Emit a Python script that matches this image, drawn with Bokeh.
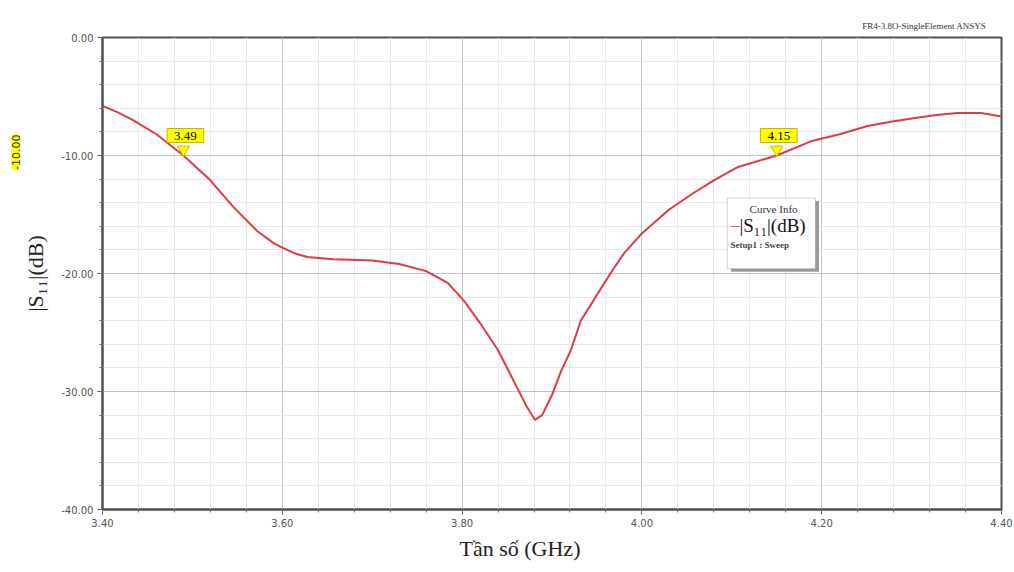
from bokeh.plotting import figure
from bokeh.models import (Range1d, PrintfTickFormatter, FixedTicker, Label, BoxAnnotation,
                          Title)
from bokeh.embed import file_html
from bokeh.resources import INLINE

# ---- data ----
freq_ghz = [3.40, 3.417, 3.434, 3.46, 3.49, 3.52, 3.546, 3.572, 3.59, 3.60, 3.614, 3.628,
            3.657, 3.70, 3.73, 3.76, 3.784, 3.802, 3.82, 3.84, 3.86, 3.872, 3.881, 3.889,
            3.90, 3.91, 3.921, 3.932, 3.946, 3.965, 3.98, 4.00, 4.03, 4.057, 4.08, 4.106,
            4.15, 4.188, 4.22, 4.251, 4.28, 4.306, 4.33, 4.351, 4.377, 4.40]
s11_db = [-5.8, -6.35, -7.0, -8.2, -10.0, -12.1, -14.4, -16.4, -17.4, -17.8, -18.3, -18.6,
          -18.8, -18.9, -19.2, -19.8, -20.8, -22.3, -24.2, -26.5, -29.5, -31.3, -32.4, -32.0,
          -30.3, -28.3, -26.5, -24.0, -22.3, -20.0, -18.3, -16.6, -14.6, -13.2, -12.1, -11.0,
          -10.0, -8.8, -8.2, -7.5, -7.1, -6.8, -6.55, -6.4, -6.4, -6.7]
marker_freq = [3.49, 4.15]
marker_db = [-10.0, -10.0]
marker_text = ["3.49", "4.15"]
x_ticks = [3.40, 3.60, 3.80, 4.00, 4.20, 4.40]
y_ticks = [0.0, -10.0, -20.0, -30.0, -40.0]

SERIF = "Liberation Serif"
SANS = "DejaVu Sans"

p = figure(width=1014, height=572, output_backend="svg", toolbar_location=None,
           x_range=Range1d(3.40, 4.40), y_range=Range1d(-40, 0),
           min_border_left=102, min_border_right=13, min_border_top=37, min_border_bottom=63)
p.background_fill_color = "white"
p.border_fill_color = "white"
p.outline_line_color = "#505050"
p.outline_line_width = 2

for ax in (p.xaxis[0], p.yaxis[0]):
    ax.formatter = PrintfTickFormatter(format="%.2f")
    ax.axis_line_color = "#505050"
    ax.axis_line_width = 2
    ax.major_tick_line_color = "#505050"
    ax.minor_tick_line_color = "#707070"
    ax.major_tick_out = 5
    ax.major_tick_in = 0
    ax.minor_tick_out = 3
    ax.minor_tick_in = 0
    ax.major_label_text_font = SANS
    ax.major_label_text_font_size = "10px"
    ax.major_label_text_color = "#555555"
    ax.major_label_standoff = 4

p.xaxis[0].ticker = FixedTicker(ticks=x_ticks, minor_ticks=[3.4 + 0.04 * i for i in range(26)])
p.yaxis[0].ticker = FixedTicker(ticks=y_ticks, minor_ticks=[-2.0 * i for i in range(21)])

p.yaxis[0].axis_label = "|S\u2081\u2081|(dB)"
p.yaxis[0].axis_label_text_font = SERIF
p.yaxis[0].axis_label_text_font_size = "22px"
p.yaxis[0].axis_label_text_font_style = "normal"
p.yaxis[0].axis_label_text_color = "#222222"
p.yaxis[0].axis_label_standoff = 10

# yellow marker value on the y axis side
p.add_layout(Title(text="%.2f" % marker_db[0], align="right", offset=97, text_font=SANS,
                   text_font_size="11px", text_font_style="normal", text_color="#333333",
                   background_fill_color="#ffff00", standoff=2), "left")

# x axis label (as a title below, shifted left like the reference)
p.add_layout(Title(text="Tần số (GHz)", align="left", offset=357, text_font=SERIF,
                   text_font_size="22px", text_font_style="normal", text_color="#222222",
                   standoff=9), "below")

# header
p.add_layout(Title(text="FR4-3.8O-SingleElement      ANSYS", align="right", offset=4,
                   text_font=SERIF, text_font_size="9px", text_font_style="normal",
                   text_color="#333333", standoff=14), "above")

p.xgrid.grid_line_color = "#c4c4c4"
p.ygrid.grid_line_color = "#c4c4c4"
p.xgrid.minor_grid_line_color = "#e8e8e8"
p.ygrid.minor_grid_line_color = "#e8e8e8"

p.line(freq_ghz, s11_db, line_color="#e03a42", line_width=2)

# markers
p.scatter(marker_freq, [m + 0.5 for m in marker_db], marker="inverted_triangle", size=12,
          fill_color="#ffff00", line_color="#c8b400")
for f, d, t in zip(marker_freq, marker_db, marker_text):
    p.add_layout(Label(x=f, y=d, text=t, text_align="center", text_baseline="bottom",
                       x_offset=2, y_offset=13, text_font=SERIF, text_font_size="13px",
                       text_color="black", background_fill_color="#ffff00",
                       border_line_color="#c8b400",
                       padding=dict(left=7, right=7, top=3, bottom=3)))

# curve info box
p.add_layout(BoxAnnotation(left=4.099, right=4.197, top=-13.85, bottom=-19.85,
                           fill_color="#9a9a9a", fill_alpha=1.0, line_alpha=0))
p.add_layout(BoxAnnotation(left=4.095, right=4.193, top=-13.6, bottom=-19.6,
                           fill_color="white", fill_alpha=1.0, line_color="#707070",
                           line_width=1))
p.add_layout(Label(x=4.1465, y=-14.5, text="Curve Info", text_align="center",
                   text_baseline="middle", text_font=SERIF, text_font_size="11px",
                   text_color="#333333"))
p.add_layout(Label(x=4.0975, y=-15.95, text="\u2014", text_align="left",
                   text_baseline="middle", text_font=SANS, text_font_size="11px",
                   text_color="#e03a42"))
p.add_layout(Label(x=4.1085, y=-15.95, text="|S\u2081\u2081|(dB)", text_align="left",
                   text_baseline="middle", text_font=SERIF, text_font_size="19px",
                   text_color="#111111"))
p.add_layout(Label(x=4.0985, y=-17.6, text="Setup1 : Sweep", text_align="left",
                   text_baseline="middle", text_font=SERIF, text_font_size="9px",
                   text_font_style="bold", text_color="#444444"))

open("out.html", "w").write(file_html(p, INLINE))
